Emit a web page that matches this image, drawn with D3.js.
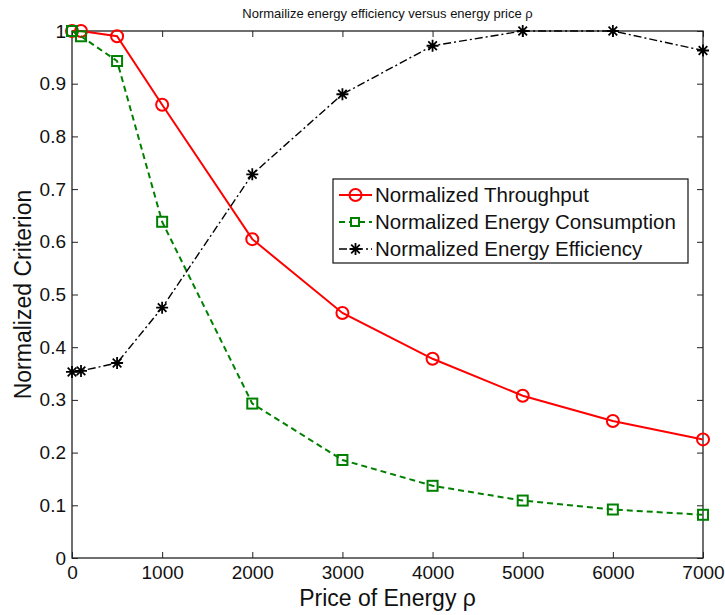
<!DOCTYPE html>
<html>
<head>
<meta charset="utf-8">
<script src="https://cdn.jsdelivr.net/npm/d3@7"></script>
<style>
  body { margin: 0; background: #fff; }
  text { font-family: "Liberation Sans", Arial, Helvetica, sans-serif; }
</style>
</head>
<body>
<svg id="chart" width="725" height="615"></svg>
<script>
const prices = [0, 100, 500, 1000, 2000, 3000, 4000, 5000, 6000, 7000];
const throughput = [1.0, 1.0, 0.99, 0.86, 0.605, 0.465, 0.378, 0.308, 0.26, 0.225];
const consumption = [1.0, 0.99, 0.943, 0.638, 0.293, 0.186, 0.137, 0.109, 0.092, 0.082];
const efficiency = [0.353, 0.355, 0.37, 0.475, 0.728, 0.88, 0.972, 1.0, 1.0, 0.963];
const xTicks = [0, 1000, 2000, 3000, 4000, 5000, 6000, 7000];
const yTicks = [0, 0.1, 0.2, 0.3, 0.4, 0.5, 0.6, 0.7, 0.8, 0.9, 1];
const seriesNames = ["Normalized Throughput", "Normalized Energy Consumption", "Normalized Energy Efficiency"];
const titleText = "Normailize energy efficiency versus energy price \u03C1";
const xLabel = "Price of Energy \u03C1";
const yLabel = "Normalized Criterion";

const svg = d3.select("#chart");
const L = 72, R = 703, T = 31, B = 558;
const x = d3.scaleLinear().domain([0, 7000]).range([L, R]);
const y = d3.scaleLinear().domain([0, 1]).range([B, T]);

// axes box
svg.append("rect").attr("x", L).attr("y", T).attr("width", R - L).attr("height", B - T)
  .attr("fill", "none").attr("stroke", "#222").attr("stroke-width", 1.3);

const fmtY = d => d === 0 ? "0" : d === 1 ? "1" : d.toFixed(1);
const axB = svg.append("g").attr("transform", `translate(0,${B})`)
  .call(d3.axisBottom(x).tickValues(xTicks).tickSize(-6).tickPadding(8).tickFormat(d3.format("d")));
const axT = svg.append("g").attr("transform", `translate(0,${T})`)
  .call(d3.axisTop(x).tickValues(xTicks).tickSize(-6).tickFormat(""));
const axL = svg.append("g").attr("transform", `translate(${L},0)`)
  .call(d3.axisLeft(y).tickValues(yTicks).tickSize(-6).tickPadding(6).tickFormat(fmtY));
const axR = svg.append("g").attr("transform", `translate(${R},0)`)
  .call(d3.axisRight(y).tickValues(yTicks).tickSize(-6).tickFormat(""));
[axB, axT, axL, axR].forEach(g => {
  g.select(".domain").remove();
  g.selectAll(".tick line").attr("stroke", "#222").attr("stroke-width", 1);
  g.selectAll("text").attr("font-size", 19).attr("fill", "#111")
    .attr("font-family", "'Liberation Sans', Arial, sans-serif");
});
axB.selectAll("text").attr("dy", "0.71em");

// title & labels
svg.append("text").attr("x", (L + R) / 2).attr("y", 18).attr("text-anchor", "middle")
  .attr("font-size", 13).attr("fill", "#111").text(titleText);
svg.append("text").attr("x", (L + R) / 2).attr("y", 606).attr("text-anchor", "middle")
  .attr("font-size", 23).attr("fill", "#111").text(xLabel);
svg.append("text").attr("transform", `translate(31,${(T + B) / 2}) rotate(-90)`)
  .attr("text-anchor", "middle").attr("font-size", 23).attr("fill", "#111").text(yLabel);

const line = d3.line().x(d => x(d[0])).y(d => y(d[1]));
const series = [
  { vals: throughput, color: "#ff0000", dash: null, width: 2, marker: "circle" },
  { vals: consumption, color: "#008000", dash: "6,4", width: 2, marker: "square" },
  { vals: efficiency, color: "#000000", dash: "8,3,2,3", width: 1.4, marker: "star" }
];

function drawMarker(g, type, cx, cy, color) {
  if (type === "circle") {
    g.append("circle").attr("cx", cx).attr("cy", cy).attr("r", 6)
      .attr("fill", "none").attr("stroke", color).attr("stroke-width", 2);
  } else if (type === "square") {
    g.append("rect").attr("x", cx - 5).attr("y", cy - 5).attr("width", 10).attr("height", 10)
      .attr("fill", "none").attr("stroke", color).attr("stroke-width", 2);
  } else {
    const s = 6, d = 4.3;
    const p = `M${cx - s},${cy}L${cx + s},${cy}M${cx},${cy - s}L${cx},${cy + s}` +
      `M${cx - d},${cy - d}L${cx + d},${cy + d}M${cx - d},${cy + d}L${cx + d},${cy - d}`;
    g.append("path").attr("d", p).attr("stroke", color).attr("stroke-width", 1.8).attr("fill", "none");
  }
}

series.forEach(s => {
  const pts = prices.map((p, i) => [p, s.vals[i]]);
  svg.append("path").datum(pts).attr("d", line).attr("fill", "none")
    .attr("stroke", s.color).attr("stroke-width", s.width)
    .attr("stroke-dasharray", s.dash);
  const g = svg.append("g");
  pts.forEach(p => drawMarker(g, s.marker, x(p[0]), y(p[1]), s.color));
});

// legend
const lg = svg.append("g");
lg.append("rect").attr("x", 333).attr("y", 179).attr("width", 355).attr("height", 84)
  .attr("fill", "#fff").attr("stroke", "#111").attr("stroke-width", 1.2);
series.forEach((s, i) => {
  const cy = 195 + i * 27;
  lg.append("line").attr("x1", 339).attr("x2", 372).attr("y1", cy).attr("y2", cy)
    .attr("stroke", s.color).attr("stroke-width", s.width).attr("stroke-dasharray", s.dash);
  if (s.marker === "square") {
    lg.append("rect").attr("x", 351).attr("y", cy - 4).attr("width", 8).attr("height", 8)
      .attr("fill", "#fff").attr("stroke", s.color).attr("stroke-width", 2);
  } else {
    drawMarker(lg, s.marker, 355.5, cy, s.color);
  }
  lg.append("text").attr("x", 375).attr("y", cy).attr("dy", "0.36em")
    .attr("font-size", 20.5).attr("fill", "#111").text(seriesNames[i]);
});
</script>
</body>
</html>
